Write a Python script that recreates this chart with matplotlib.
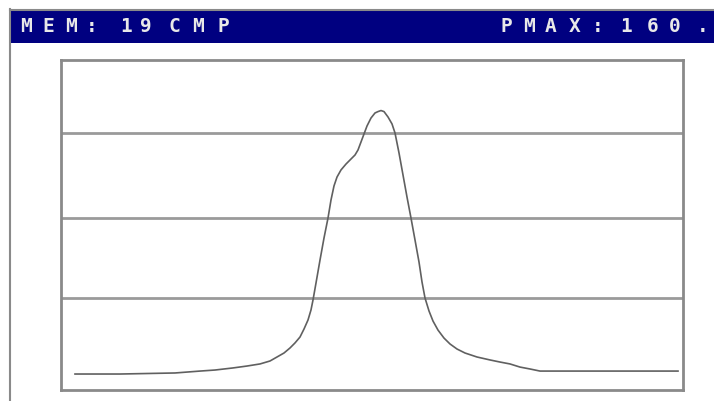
import matplotlib.pyplot as plt
from matplotlib.patches import Rectangle
from matplotlib.lines import Line2D

# pressure trace (sample index, pressure)
samples = [14, 59, 114, 139, 154, 172, 186, 199, 209, 216, 223, 229, 234,
           239, 243, 247, 250, 252, 255, 259, 263, 267, 270, 273, 276, 280,
           285, 290, 294, 297, 300, 303, 306, 310, 314, 317, 320, 323, 327,
           331, 334, 338, 342, 346, 350, 354, 358, 361, 364, 368, 372, 377,
           383, 389, 396, 404, 416, 429, 439, 449, 459, 469, 479, 539, 617]
pressure = [9.2, 9.2, 9.8, 10.9, 11.5, 12.7, 13.8, 15.0, 16.7, 19.0, 21.3,
            24.2, 27.1, 30.5, 35.1, 40.3, 46.1, 51.8, 61.6, 74.8, 87.5, 99.0,
            109.4, 117.5, 122.6, 126.7, 130.1, 133.0, 135.3, 138.2, 142.8,
            147.4, 152.0, 156.6, 159.5, 160.3, 160.9, 160.3, 157.2, 153.2,
            148.0, 136.5, 123.8, 111.1, 99.0, 86.4, 73.7, 62.2, 53.0, 45.5,
            39.7, 34.5, 29.9, 26.5, 23.6, 21.3, 19.0, 17.3, 16.1, 15.0, 13.2,
            12.1, 10.9, 10.9, 10.9]
grid_levels = [53.0, 99.0, 148.0]

header_left = "MEM: 19CMP"
header_right = "PMAX:160.9"

W, H = 714, 401
fig = plt.figure(figsize=(W / 100, H / 100), dpi=100)
fig.patch.set_facecolor('white')

# header bar and frame lines (figure pixel coords)
ov = fig.add_axes([0, 0, 1, 1])
ov.set_xlim(0, W)
ov.set_ylim(H, 0)
ov.axis('off')
ov.add_patch(Rectangle((10, 10), W - 10, 33, facecolor='#000080', edgecolor='none'))
ov.add_line(Line2D([10, W], [9.5, 9.5], color='#8a8a8a', lw=1.5))
ov.add_line(Line2D([10, 10], [9, H], color='#8a8a8a', lw=1.5))

# header text, fixed-pitch like the instrument display
left_x = [26, 48.5, 71, 92, 104, 126, 146, 174, 198, 223]
right_x = [506, 529, 551, 575, 598, 626, 653, 675, 703, 722]
for s, xs in ((header_left, left_x), (header_right, right_x)):
    for ch, xc in zip(s, xs):
        ov.text(xc, 27, ch, color='#e8e8e8', fontsize=14, fontweight='bold',
                family='DejaVu Sans Mono', ha='center', va='center')

# plot box
ax = fig.add_axes([61 / W, (H - 390) / H, (683 - 61) / W, (390 - 60) / H])
ax.set_xlim(0, 622)
ax.set_ylim(0, 190)
for sp in ax.spines.values():
    sp.set_color('#8a8a8a')
    sp.set_linewidth(2)
ax.set_xticks([])
ax.set_yticks([])
for g in grid_levels:
    ax.axhline(g, color='#9a9a9a', lw=2)
ax.plot(samples, pressure, color='#606060', lw=1.2)

fig.savefig('out.png', dpi=100)
